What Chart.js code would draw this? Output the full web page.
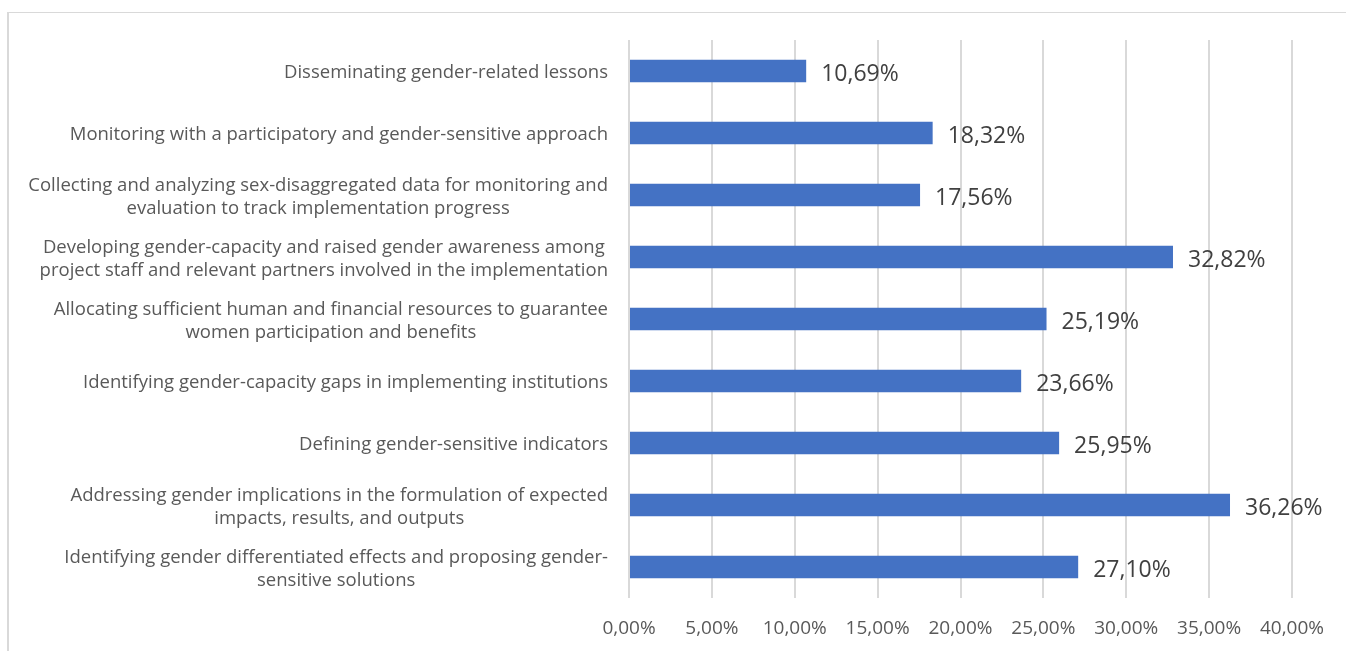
<!DOCTYPE html>
<html>
<head>
<meta charset="utf-8">
<script src="https://cdn.jsdelivr.net/npm/chart.js@4"></script>
<style>
  body { margin: 0; background: #fff; }
  #frame { position: absolute; left: 7px; top: 12px; width: 1400px; height: 700px;
           border-left: 2px solid #d9d9d9; border-top: 1px solid #d9d9d9; }
  #wrap { position: absolute; left: 0; top: 0; width: 1346px; height: 651px; }
</style>
</head>
<body>
<div id="frame"></div>
<div id="wrap"><canvas id="barChart"></canvas></div>
<script>
// =======================
// Data
// =======================

const categories = [
  "Disseminating gender-related lessons",
  "Monitoring with a participatory and gender-sensitive approach",
  ["Collecting and analyzing sex-disaggregated data for monitoring and", "evaluation to track implementation progress"],
  ["Developing gender-capacity and raised gender awareness among", "project staff and relevant partners involved in the implementation"],
  ["Allocating sufficient human and financial resources to guarantee", "women participation and benefits"],
  "Identifying gender-capacity gaps in implementing institutions",
  "Defining gender-sensitive indicators",
  ["Addressing gender implications in the formulation of expected", "impacts, results, and outputs"],
  ["Identifying gender differentiated effects and proposing gender-", "sensitive solutions"]
];

const values = [10.69, 18.32, 17.56, 32.82, 25.19, 23.66, 25.95, 36.26, 27.10];

const tickMin = 0;
const tickMax = 40;
const tickStep = 5;

function pct(v) {
  return v.toFixed(2).replace(".", ",") + "%";
}

// =======================
// Labels (value labels + centred multi-line category labels)
// =======================

const labelFont = "18.5px 'Open Sans'";
const labelLine = 23;

const drawLabels = {
  id: "drawLabels",
  afterDatasetsDraw(chart) {
    const ctx = chart.ctx;
    const meta = chart.getDatasetMeta(0);
    ctx.save();
    ctx.font = "23px 'Open Sans'";
    ctx.fillStyle = "#404040";
    ctx.textBaseline = "middle";
    ctx.textAlign = "left";
    meta.data.forEach((bar, i) => {
      ctx.fillText(pct(values[i]), bar.x + 15, bar.y + 3);
    });

    // category labels: block right-aligned to the axis, lines centred
    const yScale = chart.scales.y;
    const right = chart.chartArea.left - 21;
    ctx.font = labelFont;
    ctx.fillStyle = "#595959";
    ctx.textAlign = "center";
    categories.forEach((cat, i) => {
      const lines = Array.isArray(cat) ? cat : [cat];
      const w = Math.max(...lines.map((l) => ctx.measureText(l).width));
      const cx = right - w / 2;
      const cy = yScale.getPixelForTick(i) + 2;
      lines.forEach((l, j) => {
        ctx.fillText(l, cx, cy + (j - (lines.length - 1) / 2) * labelLine);
      });
    });
    ctx.restore();
  }
};

// =======================
// Bar Chart
// =======================

const barChart = document.getElementById("barChart");

if (barChart) {
  new Chart(barChart, {
    type: "bar",
    data: {
      labels: categories,
      datasets: [
        {
          data: values,
          backgroundColor: "#4472C4",
          barPercentage: 0.72,
          categoryPercentage: 0.5
        }
      ]
    },
    options: {
      indexAxis: "y",
      responsive: true,
      maintainAspectRatio: false,
      animation: false,
      layout: { padding: { top: 40, right: 54, bottom: 0, left: 0 } },
      plugins: {
        legend: { display: false },
        tooltip: { enabled: false }
      },
      scales: {
        x: {
          min: tickMin,
          max: tickMax,
          afterFit: (scale) => { scale.height = 53; },
          ticks: {
            stepSize: tickStep,
            callback: (v) => pct(v),
            color: "#595959",
            font: { family: "'Open Sans'", size: 19 },
            padding: 19,
            maxRotation: 0
          },
          grid: { color: "#d9d9d9", lineWidth: 2, drawTicks: false },
          border: { display: false }
        },
        y: {
          afterFit: (scale) => { scale.width = 629; },
          ticks: { display: false },
          grid: { display: false, drawTicks: false },
          border: { display: false }
        }
      }
    },
    plugins: [drawLabels]
  });
}
</script>
</body>
</html>
